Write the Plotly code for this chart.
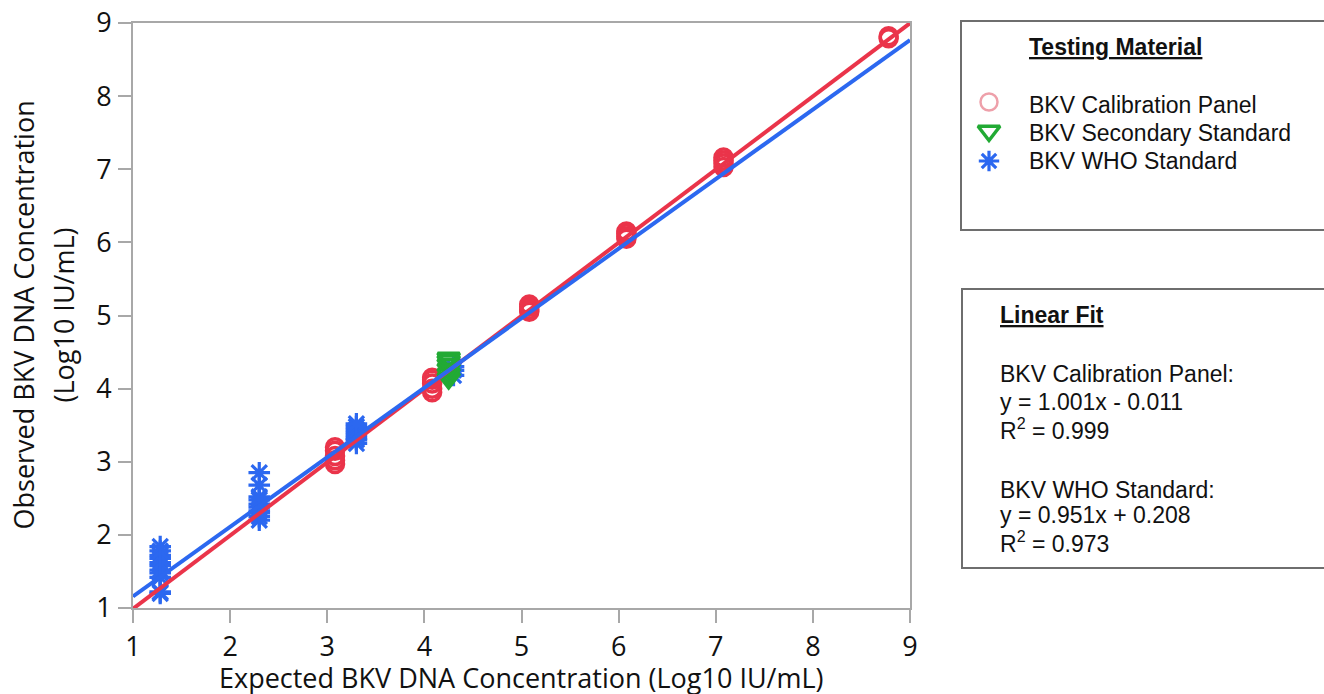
import numpy as np
import plotly.graph_objects as go

W, H = 1324, 694

# ---------------- data ----------------
cal_x = [3.08]*5 + [4.08]*5 + [5.08]*4 + [6.08]*4 + [7.08]*4 + [8.78]*2
cal_y = [2.97, 3.02, 3.08, 3.15, 3.20,
         3.95, 4.00, 4.07, 4.12, 4.15,
         5.05, 5.08, 5.12, 5.15,
         6.05, 6.08, 6.12, 6.15,
         7.03, 7.08, 7.12, 7.16,
         8.79, 8.82]
sec_x = [4.25]*6
sec_y = [4.14, 4.20, 4.27, 4.33, 4.38, 4.42]
who_x = [1.28]*11 + [2.30]*10 + [3.30]*8 + [4.30]*3
who_y = [1.20, 1.22, 1.42, 1.48, 1.52, 1.58, 1.62, 1.68, 1.72, 1.78, 1.84,
         2.20, 2.25, 2.30, 2.33, 2.38, 2.42, 2.48, 2.52, 2.68, 2.85,
         3.25, 3.30, 3.32, 3.36, 3.40, 3.44, 3.48, 3.52,
         4.18, 4.25, 4.30]

fit_names = ["BKV Calibration Panel", "BKV WHO Standard"]
fit_slope = [1.001, 0.951]
fit_icpt = [-0.011, 0.208]
fit_r2 = [0.999, 0.973]

ticks = [1, 2, 3, 4, 5, 6, 7, 8, 9]
axis_range = [1, 9]

RED = "rgb(234,52,74)"
BLUE = "rgb(44,104,240)"
GREEN = "rgb(34,170,52)"
PINK = "rgb(238,160,170)"

# ---------------- layout geometry (pixels) ----------------
PL, PR, PT, PB = 133, 910, 23, 608

def px(x):
    return x / W

def py(y):
    return 1 - y / H

fig = go.Figure()

fig.add_trace(go.Scatter(x=who_x, y=who_y, mode="markers", showlegend=False,
                         marker=dict(symbol="asterisk-open", size=18, color=BLUE,
                                     line=dict(color=BLUE, width=3.2))))
fig.add_trace(go.Scatter(x=cal_x, y=cal_y, mode="markers", showlegend=False,
                         marker=dict(symbol="circle-open", size=17, color=RED,
                                     line=dict(color=RED, width=3.5))))
fig.add_trace(go.Scatter(x=sec_x, y=sec_y, mode="markers", showlegend=False,
                         marker=dict(symbol="triangle-down-open", size=19, color=GREEN,
                                     line=dict(color=GREEN, width=3.5))))

xf = np.array(axis_range, dtype=float)
for s, b, c in zip(fit_slope, fit_icpt, [RED, BLUE]):
    fig.add_trace(go.Scatter(x=xf, y=s * xf + b, mode="lines", showlegend=False,
                             line=dict(color=c, width=4)))

# legend symbols on overlay axis
leg_syms = [("circle-open", PINK, 17, 2.5), ("triangle-down-open", GREEN, 19, 3.5),
            ("asterisk-open", BLUE, 17, 3.2)]
leg_rows_px = [102, 131, 161]
for (sym, col, sz, lw), ry in zip(leg_syms, leg_rows_px):
    fig.add_trace(go.Scatter(x=[0.5], y=[H - ry], mode="markers", showlegend=False,
                             xaxis="x2", yaxis="y2",
                             marker=dict(symbol=sym, size=sz, color=col,
                                         line=dict(color=col, width=lw))))

axcol = "#a8a8a8"
common = dict(range=axis_range, tickmode="array", tickvals=ticks, ticks="outside",
              ticklen=13, tickwidth=2, tickcolor=axcol, showline=True, linecolor=axcol,
              linewidth=2, mirror=True, showgrid=False, zeroline=False,
              tickfont=dict(family="Open Sans", size=27, color="#111"))

fig.update_layout(
    width=W, height=H, margin=dict(l=0, r=0, t=0, b=0, autoexpand=False),
    paper_bgcolor="white", plot_bgcolor="white", showlegend=False,
    xaxis=dict(domain=[px(PL), px(PR)], ticklabelstandoff=1, automargin=False, **common),
    yaxis=dict(domain=[py(PB), py(PT)], ticklabelstandoff=1, automargin=False, **common),
    xaxis2=dict(domain=[px(970), px(1008)], range=[0, 1], visible=False, anchor="y2"),
    yaxis2=dict(domain=[0, 1], range=[0, H], visible=False, anchor="x2"),
)

TXT = dict(family="Liberation Sans, Arial", size=23, color="#111")
AX = dict(family="Open Sans", size=27, color="#111")
ann = []
# axis titles
ann.append(dict(x=px((PL + PR) / 2), y=py(677), xref="paper", yref="paper",
                text="Expected BKV DNA Concentration (Log10 IU/mL)", showarrow=False,
                xanchor="center", yanchor="middle", font=AX))
ann.append(dict(x=px(23), y=py((PT + PB) / 2), xref="paper", yref="paper",
                text="Observed BKV DNA Concentration", showarrow=False, textangle=-90,
                xanchor="center", yanchor="middle", font=AX))
ann.append(dict(x=px(63), y=py((PT + PB) / 2), xref="paper", yref="paper",
                text="(Log10 IU/mL)", showarrow=False, textangle=-90,
                xanchor="center", yanchor="middle", font=AX))

# Testing material box
ann.append(dict(x=px(1027), y=py(47), xref="paper", yref="paper",
                text="<b><u>Testing Material</u></b>", showarrow=False,
                xanchor="left", yanchor="middle", font=TXT))
names = ["BKV Calibration Panel", "BKV Secondary Standard", "BKV WHO Standard"]
for n, ry in zip(names, [105, 133, 161]):
    ann.append(dict(x=px(1027), y=py(ry), xref="paper", yref="paper", text=n,
                    showarrow=False, xanchor="left", yanchor="middle", font=TXT))

# Linear fit box
fit_lines = [("<b><u>Linear Fit</u></b>", 315)]
rows = [(374, 402, 429), (490, 515, 542)]
for nm, s, b, r2, (r1, r2y, r3) in zip(fit_names, fit_slope, fit_icpt, fit_r2, rows):
    sign = "-" if b < 0 else "+"
    fit_lines.append((f"{nm}:", r1))
    fit_lines.append((f"y = {s:.3f}x {sign} {abs(b):.3f}", r2y))
    fit_lines.append((f"R<sup>2</sup> = {r2:.3f}", r3))
for t, ry in fit_lines:
    ann.append(dict(x=px(998), y=py(ry), xref="paper", yref="paper", text=t,
                    showarrow=False, xanchor="left", yanchor="middle", font=TXT))

fig.update_layout(annotations=ann)

boxcol = "#6e6e6e"
fig.add_shape(type="rect", xref="paper", yref="paper", x0=px(961), x1=px(1330),
              y0=py(230), y1=py(21), line=dict(color=boxcol, width=2), fillcolor="rgba(0,0,0,0)")
fig.add_shape(type="rect", xref="paper", yref="paper", x0=px(962), x1=px(1330),
              y0=py(568), y1=py(289), line=dict(color=boxcol, width=2), fillcolor="rgba(0,0,0,0)")

fig.write_html("out.html")
